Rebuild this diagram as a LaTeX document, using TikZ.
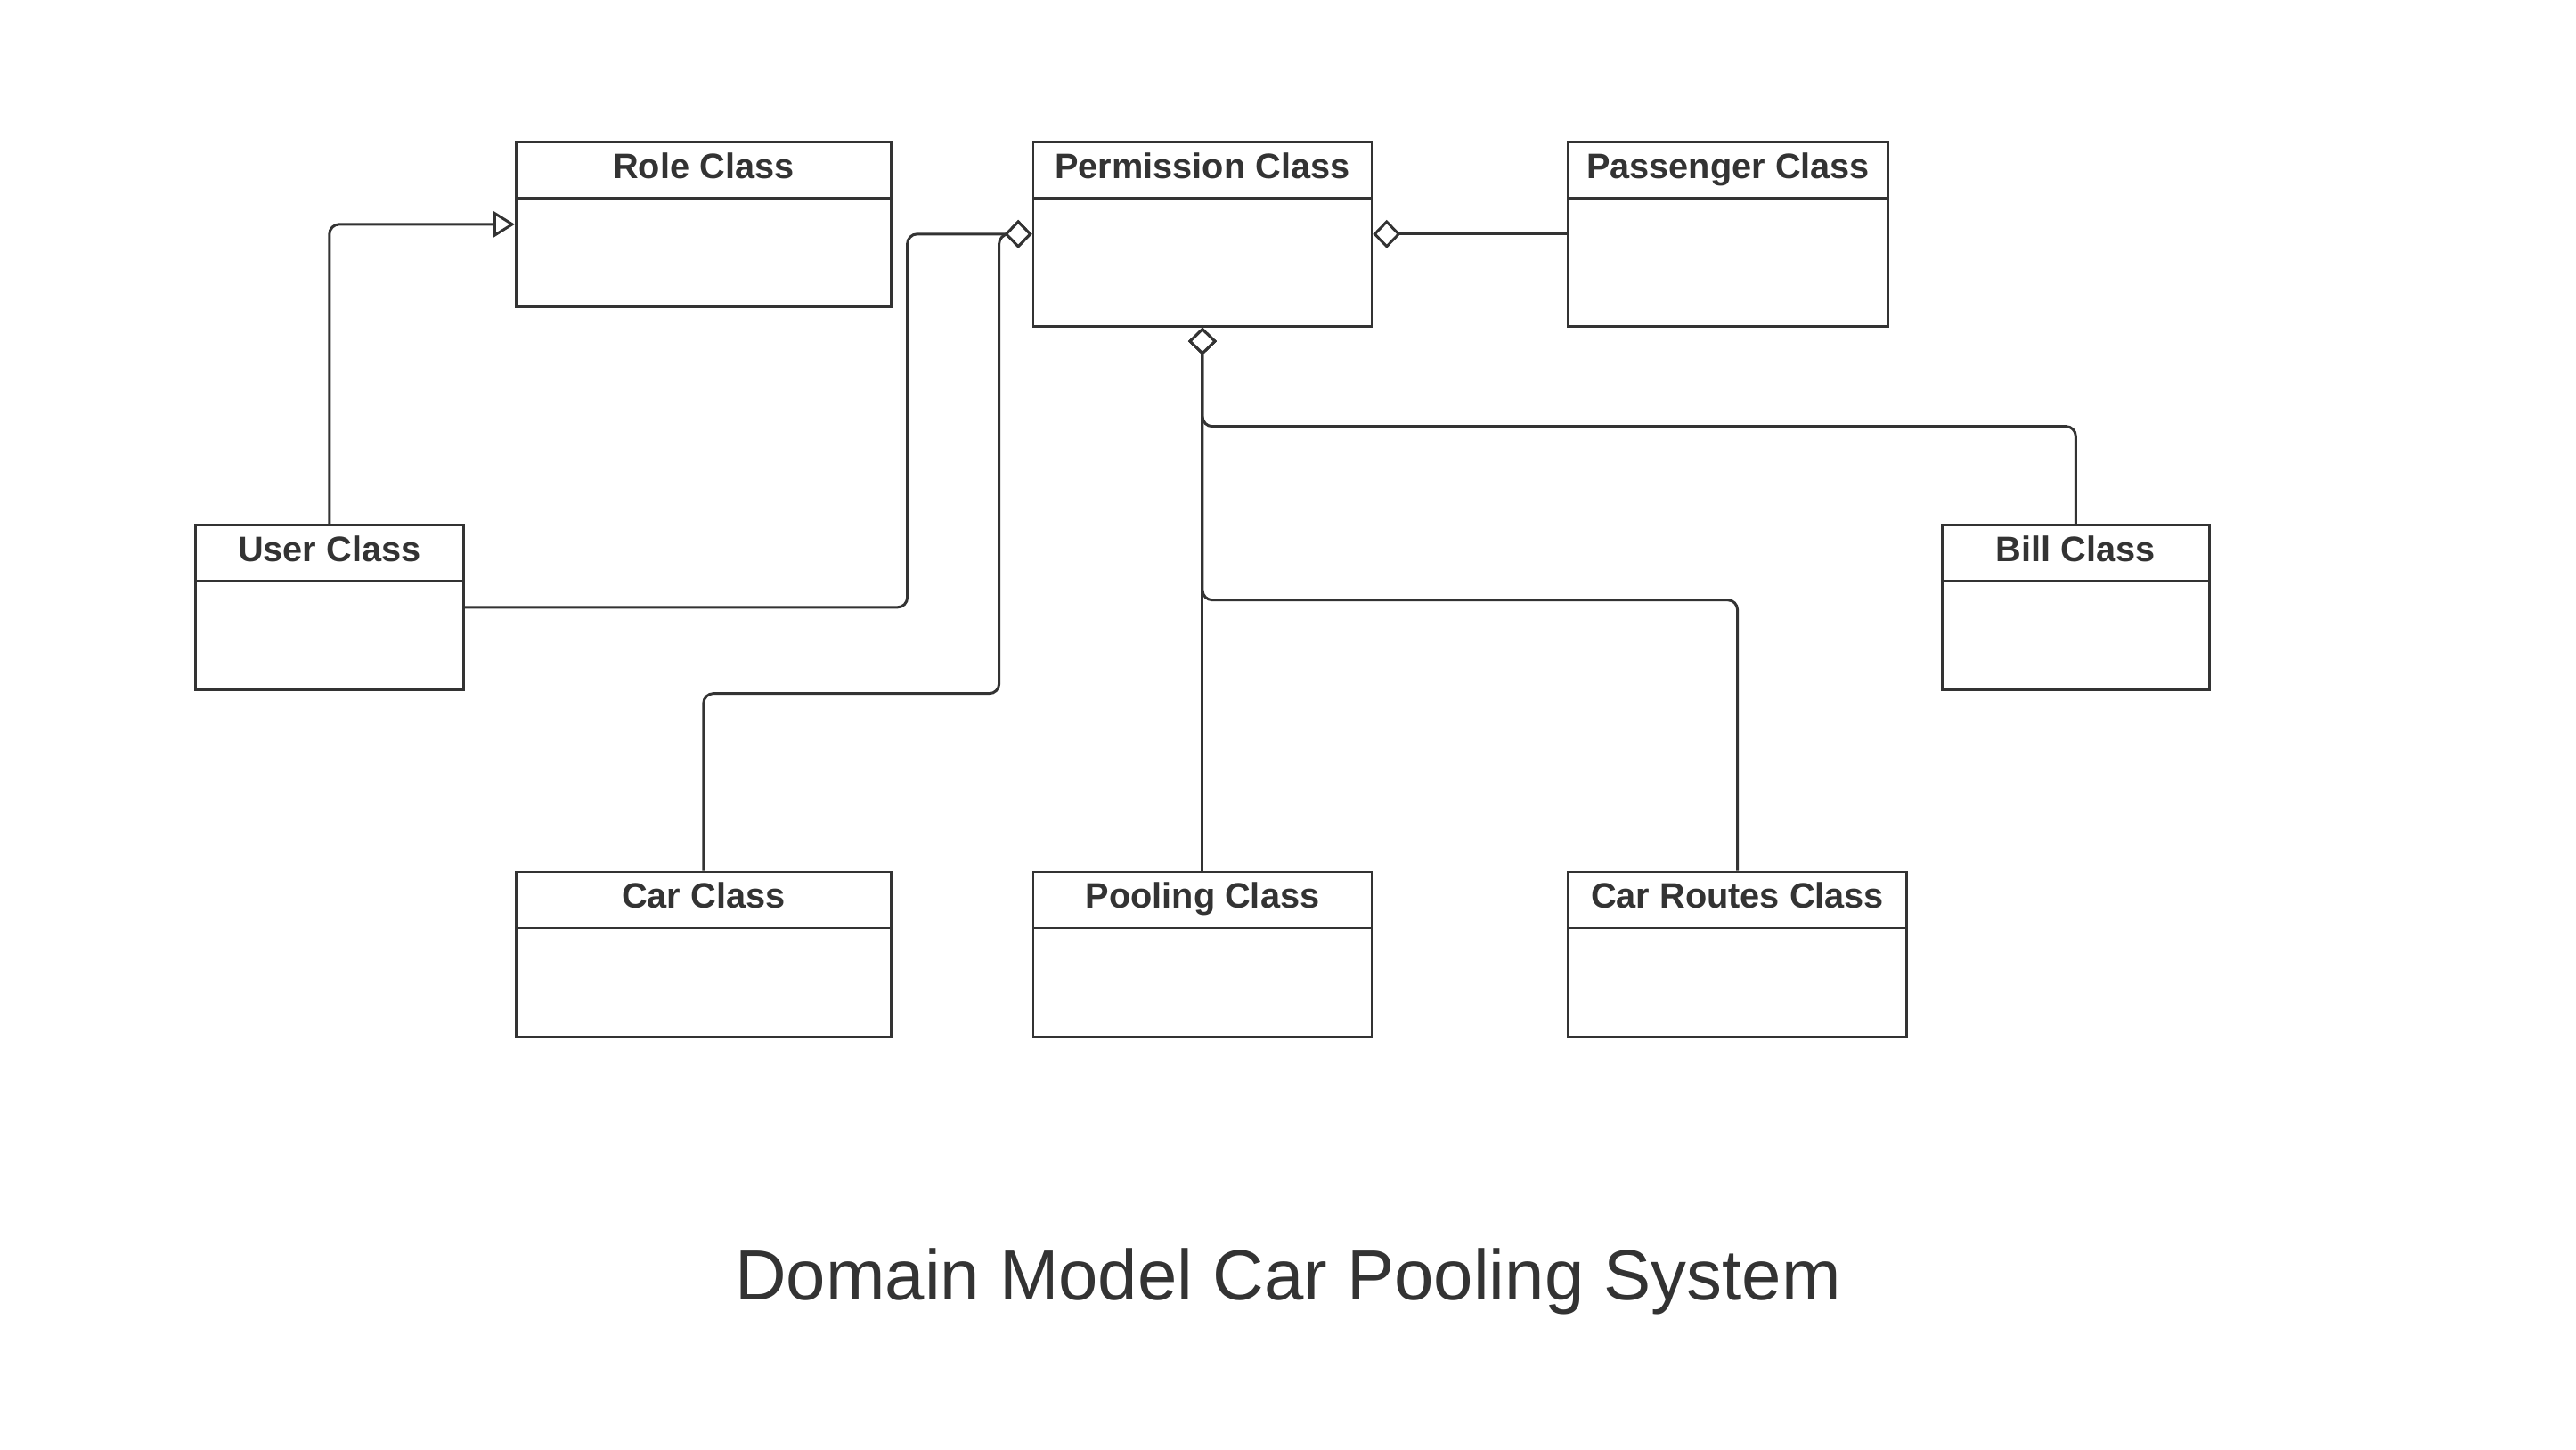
\documentclass[tikz,border=0pt]{standalone}
\usepackage{xcolor}
\usepackage{fontspec}
\setmainfont{Liberation Sans}
\usepackage{tikz}
\usetikzlibrary{arrows.meta, positioning}

\definecolor{inkgray}{HTML}{333333}

\begin{document}
\begin{tikzpicture}[
    classbox/.style 2 args={rectangle, draw=inkgray, line width=0.75pt, text=inkgray, inner sep=0pt,
        minimum width=#1cm, text height=0.41cm, text depth=#2cm,
        font=\bfseries\fontsize{11.3}{13}\selectfont,
        path picture={\draw[inkgray, line width=0.75pt]
            ([yshift=-0.63cm]path picture bounding box.north west) --
            ([yshift=-0.63cm]path picture bounding box.north east);}},
    line/.style={draw=inkgray, line width=0.85pt, rounded corners=0.11cm},
    agg/.style={line, -{Diamond[fill=white, length=0.31cm, width=0.32cm]}},
    gen/.style={line, -{Triangle[open, length=0.24cm, width=0.29cm]}}
]
\useasboundingbox (0,0) rectangle (28.92,-16.27);

% Nodes
\node [classbox={4.21}{1.44}, anchor=north west] (role) at (5.78,-1.58) {Role Class};
\node [classbox={3.80}{1.66}, right=1.57cm of role.north east, anchor=north west] (perm) {Permission Class};
\node [classbox={3.59}{1.66}, right=2.18cm of perm.north east, anchor=north west] (passenger) {Passenger Class};

\node [classbox={3.01}{1.44}, anchor=north west] (user) at (2.18,-5.88) {User Class};
\node [classbox={3.00}{1.44}, anchor=north west] (bill) at (21.79,-5.88) {Bill Class};

\node [classbox={4.21}{1.44}, below=6.32cm of role] (car) {Car Class};
\node [classbox={3.80}{1.44}, below=6.10cm of perm] (pooling) {Pooling Class};
\node [classbox={3.80}{1.44}, below=6.10cm of passenger.south west, anchor=north west] (carroutes) {Car Routes Class};

\node [text=inkgray, font=\fontsize{22.7}{27}\selectfont, anchor=base] (title) at (14.46,-14.59) {Domain Model Car Pooling System};

% Edges
\path [gen] (user.north) |- (role.west);

\path [agg] (user.east) -| ([xshift=-1.40cm]perm.west) -- (perm.west);
\path [agg] (car.north) -- ++(0,1.99) -| ([xshift=-0.37cm]perm.west) -- (perm.west);
\path [agg] (passenger.west) -- (perm.east);

\path [agg] (pooling.north) -- (perm.south);
\path [agg] (bill.north) |- ([yshift=-1.11cm]perm.south) -- (perm.south);
\path [agg] (carroutes.north) |- ([yshift=-3.06cm]perm.south) -- (perm.south);
\end{tikzpicture}
\end{document}
